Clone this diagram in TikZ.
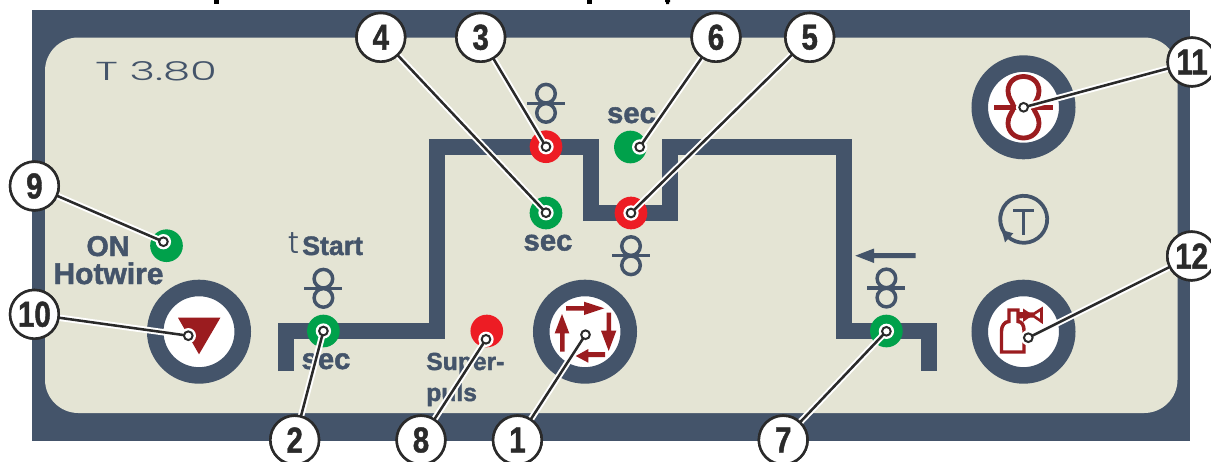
\documentclass[tikz,border=0pt]{standalone}
\usepackage{fontspec}
\setmainfont{Liberation Sans}
\newfontfamily\pbold[FakeBold=1.6]{Liberation Sans Bold}
\newfontfamily\pnum[FakeStretch=0.82,FakeBold=1.2]{Liberation Sans Bold}
\newfontfamily\pthin[FakeStretch=1.67]{Poppins Light}
\newfontfamily\pnarrow{Poppins Light}
\definecolor{slate}{HTML}{44546A}
\definecolor{panel}{HTML}{E4E4D4}
\definecolor{ledgreen}{HTML}{00A14B}
\definecolor{ledred}{HTML}{ED1C24}
\definecolor{brick}{HTML}{9B1C1F}
\definecolor{ink}{HTML}{2A2A2A}
\tikzset{
  callout/.style={circle,draw=ink,line width=1.9pt,fill=white,minimum size=36.5pt,inner sep=0pt,text=ink,font=\pnum\fontsize{27}{27}\selectfont},
  leaderhalo/.style={white,line width=4.8pt},
  leaderline/.style={ink,line width=1.9pt},
  dothalo/.style={circle,fill=white,minimum size=11.5pt,inner sep=0pt},
  tipdot/.style={circle,draw=ink,line width=1.5pt,fill=white,minimum size=6.5pt,inner sep=0pt},
  led/.style={circle,minimum size=24.5pt,inner sep=0pt},
  ring/.style={circle,draw=slate,line width=12.4pt,fill=white,minimum size=65.6pt,inner sep=0pt},
  lab/.style={text=slate,inner sep=0pt,anchor=base},
  bigl/.style={lab,font=\pbold\fontsize{21.5}{21.5}\selectfont},
  midl/.style={lab,font=\pbold\fontsize{18.5}{18.5}\selectfont},
  secl/.style={lab,font=\pbold\fontsize{22}{22}\selectfont},
  symline/.style={brick,line width=3.6pt,line join=miter},
  roll/.pic={
    \draw[slate,line width=2.6pt] (0,-9.6) circle[radius=9.3];
    \draw[slate,line width=2.6pt] (0,9.6) circle[radius=9.3];
    \draw[slate,line width=2.6pt] (-19,0) -- (19,0);
  }
}
\begin{document}
\begin{tikzpicture}[x=0.75pt,y=-0.75pt]
\path[use as bounding box] (0,0) rectangle (1211,461);
\clip (0,0) rectangle (1211,461);
\fill[white] (0,0) rectangle (1211,461);
% remnants of the cut-off title
\fill[black] (213.5,0) rectangle (218.5,4);
\fill[black] (587,0) rectangle (592,4);
\fill[black] (665,0) rectangle (670,2) (666,2) rectangle (669,4);
% panel
\fill[slate] (32,10) rectangle (1190,441);
\fill[panel,rounded corners=25pt] (45,37.5) rectangle (1177.5,413);
% step line
\draw[slate,line width=12pt,line join=miter] (286,371) -- (286,331) -- (436.5,331) -- (436.5,147) -- (590.7,147) -- (590.7,212.5) -- (670,212.5) -- (670,147) -- (844,147) -- (844,331) -- (929,331) -- (929,371);
% text
\node[lab,anchor=base west,font=\pthin\fontsize{19.5}{20}\selectfont] (model) at (95,80) {T 3.80};
\node[bigl] (on) at (108,256) {ON};
\node[bigl,font=\pbold\fontsize{22.5}{22.5}\selectfont] (hot) at (108.5,284) {Hotwire};
\node[lab,font=\pnarrow\fontsize{23}{23}\selectfont,anchor=base west] (tsmall) at (288.5,253) {t};
\node[lab,anchor=base west,font=\pbold\fontsize{20}{20}\selectfont] (start) at (302,255) {Start};
\node[secl] (sec2) at (326,369) {sec};
\node[secl] (sec4) at (548,250.5) {sec};
\node[secl] (sec6) at (631.5,123) {sec};
\node[midl,anchor=base west] (sup) at (426,370) {Super-};
\node[midl,anchor=base west] (puls) at (426,401) {puls};
% roll symbols
\pic at (323.4,288.3) {roll};
\pic at (546,103.3) {roll};
\pic at (631,255.7) {roll};
\pic at (886.4,288) {roll};
% arrow above roll 7
\fill[slate] (855.3,255.7) -- (874,248.5) -- (874,253.2) -- (915.7,253.2) -- (915.7,258.2) -- (874,258.2) -- (874,263) -- cycle;
% LEDs
\node[led,fill=ledgreen] (l9) at (166.5,245.7) {};
\node[led,fill=ledgreen] (l2) at (323.4,331) {};
\node[led,fill=ledred] (l8) at (486.8,331) {};
\node[led,fill=ledred] (l3) at (546,146.7) {};
\node[led,fill=ledgreen] (l4) at (546,213) {};
\node[led,fill=ledgreen] (l6) at (630.4,147) {};
\node[led,fill=ledred] (l5) at (631,213) {};
\node[led,fill=ledgreen] (l7) at (886.4,331) {};
% buttons
\node[ring] (b10) at (199,331.7) {};
\node[ring] (b1) at (585,331.7) {};
\node[ring] (b11) at (1023.5,107.3) {};
\node[ring] (b12) at (1023.5,331.7) {};
% button symbols
\fill[brick] (178,317.7) -- (220.4,317.7) -- (199,354.3) -- cycle;
\fill[brick] (566,306) -- (584,306) -- (584,301.7) -- (604.3,308.3) -- (584,315) -- (584,310.6) -- (566,310.6) -- cycle;
\fill[brick] (606.5,312.7) -- (611,312.7) -- (611,330.7) -- (616.3,330.7) -- (608.7,351) -- (601,330.7) -- (606.5,330.7) -- cycle;
\fill[brick] (605,352) -- (605,357) -- (588.3,357) -- (588.3,362.7) -- (575.7,356) -- (588.3,349) -- (588.3,352) -- cycle;
\fill[brick] (560,351.7) -- (564.5,351.7) -- (564.5,333.3) -- (569.3,333.3) -- (562,314) -- (554.7,333.3) -- (560,333.3) -- cycle;
\draw[symline] (1014,107) .. controls (1012,101) and (1008,98) .. (1008,91) .. controls (1008,82) and (1015,76.5) .. (1023.5,76.5) .. controls (1032,76.5) and (1039,82) .. (1039,91) .. controls (1039,98) and (1035,101) .. (1033,107) .. controls (1035,113) and (1039,116) .. (1039,123) .. controls (1039,132) and (1032,138) .. (1023.5,138) .. controls (1015,138) and (1008,132) .. (1008,123) .. controls (1008,116) and (1012,113) .. (1014,107) -- cycle;
\draw[symline] (994,107.3) -- (1053,107.3);
\draw[brick,line width=2.6pt,line join=miter] (1024,340) -- (1024,352) -- (1001.5,352) -- (1001.5,331) to[out=90,in=180] (1009,321.5) -- (1009,310) -- (1018,310) -- (1018,321.5) to[out=0,in=90] (1024,330) -- (1024,340);
\fill[brick] (1018,312) -- (1033,312.5) -- (1033,317.5) -- (1018,318.5) -- cycle;
\fill[brick] (1023,308.5) -- (1033,315) -- (1023,322) -- cycle;
\draw[brick,line width=2pt,line join=miter] (1032,315) -- (1041.5,309) -- (1041.5,321.5) -- cycle;
% T symbol with turning arrow
\draw[slate,line width=2.8pt] (1023.7,219.3) ++(200:23.5) arc[start angle=200,end angle=-215,radius=23.5];
\draw[slate,line width=2.5pt] (1013,210.5) -- (1033.5,210.5) (1023.5,210.5) -- (1023.5,235);
\fill[slate] (1001.7,230) -- (1013.3,233.3) -- (1005,242.3) -- cycle;
% callouts
\foreach \n/\x/\y in {1/585.5/334.7,2/323.4/331,3/546/146.7,4/546/212.7,5/631/213,6/639.7/147,7/886.4/331.3,8/486/339.3,9/163.4/241.7,10/188.3/335.7,11/1023.6/107.3,12/1028.3/337.7}
  {\node[tipdot] (dot\n) at (\x,\y) {};}
\foreach \n/\x/\y in {1/517.4/440,2/294.7/440,3/480.7/37.3,4/380.8/37.3,5/809.7/37.3,6/716/37.3,7/783.2/440,8/421/440,9/34.4/186,10/34.4/314.3,11/1192/62,12/1191.6/256}
  {\node[callout] (c\n) at (\x,\y) {\n};}
\foreach \n in {1,...,12} {
  \node[dothalo] at (dot\n.center) {};
  \draw[leaderhalo] (c\n.center) -- (dot\n.center);
}
\foreach \n in {1,...,12} {
  \draw[leaderline] (c\n.center) -- (dot\n.center);
  \node[tipdot] at (dot\n.center) {};
}
\foreach \n/\x/\y in {1/517.4/440,2/294.7/440,3/480.7/37.3,4/380.8/37.3,5/809.7/37.3,6/716/37.3,7/783.2/440,8/421/440,9/34.4/186,10/34.4/314.3,11/1192/62,12/1191.6/256}
  {\node[callout] at (\x,\y) {\n};}
\end{tikzpicture}
\end{document}
